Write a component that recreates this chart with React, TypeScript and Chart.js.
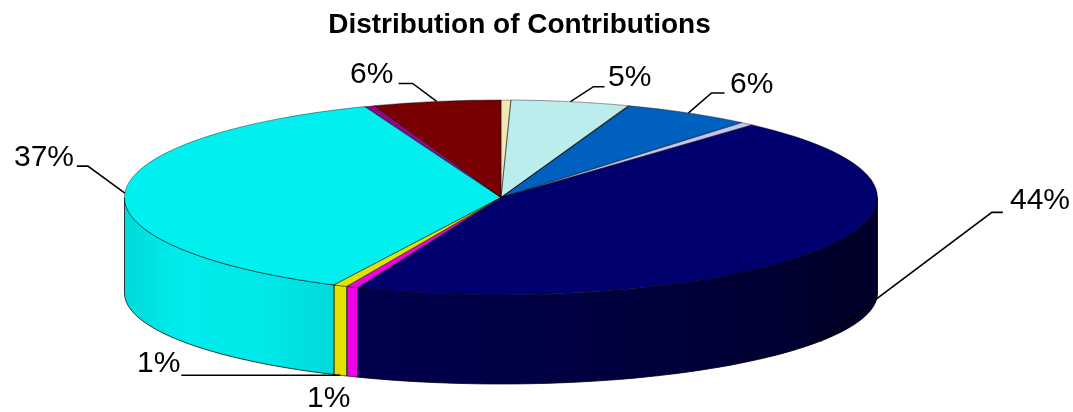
import React, { useEffect, useRef } from "react";
import { Chart, registerables } from "chart.js";

Chart.register(...registerables);

const TITLE = "Distribution of Contributions";
const categories = ["A", "B", "C", "D", "E", "F", "G", "H", "I", "J", "K"];
const shares = [0.42, 5.07, 0.06, 5.5, 0.58, 44.6, 0.5, 0.6, 36.8, 0.42, 5.47];
const percentLabels = ["", "5%", "", "6%", "", "44%", "1%", "1%", "37%", "", "6%"];
const topColors = ["#f0e8b4", "#bbeded", "#a06050", "#0060c0", "#c4c4f0", "#00006f", "#f000e8", "#e2e200", "#00f0f0", "#8a0a8a", "#780000"];

// Ellipse geometry of the tilted disc
const CX = 501, TOP_CY = 197.5, RX = 376.5, TOP_RY = 97.5, BOT_CY = 293, BOT_RY = 91;

// label layout: elbow dx, elbow dy, end dx from anchor; text x, text y
const leaderLayout: Record<number, { elbow?: [number, number]; end?: number; tx: number; ty: number }> = {
  1: { elbow: [23, -15], end: 34, tx: 608, ty: 78 },
  3: { elbow: [23, -20], end: 36, tx: 730, ty: 85 },
  5: { elbow: [172, -129], end: 183, tx: 1010, ty: 201 },
  6: { tx: 307, ty: 399 },
  7: { elbow: [-155, 0], end: -159, tx: 137, ty: 364 },
  8: { elbow: [-37, -27], end: -48, tx: 14, ty: 158 },
  10: { elbow: [-24, -18], end: -38, tx: 350, ty: 75 },
};

const pt = (a: number, cy: number, ry: number): [number, number] => [CX + RX * Math.cos(a), cy + ry * Math.sin(a)];

const discPlugin = {
  id: "disc",
  beforeDatasetDraw(chart: any) {
    const ctx = chart.ctx as CanvasRenderingContext2D;
    const arcs = chart.getDatasetMeta(0).data as any[];
    const ar = arcs[0];
    // side wall
    const shade = ctx.createLinearGradient(CX - RX, 0, CX + RX, 0);
    const stops: [number, number][] = [[125, 0.09], [180, 0.02], [260, 0.03], [333, 0.09], [334, 0], [358, 0], [359, 0.3], [600, 0.42], [877, 0.62]];
    for (const [x, o] of stops) shade.addColorStop(Math.min(1, Math.max(0, (x - (CX - RX)) / (2 * RX))), `rgba(0,0,0,${o})`);
    arcs.forEach((arc, i) => {
      const a0 = Math.max(arc.startAngle, 0);
      const a1 = Math.min(arc.endAngle, Math.PI);
      if (a1 <= a0) return;
      const path = () => {
        ctx.beginPath();
        const n = 60;
        for (let k = 0; k <= n; k++) {
          const p = pt(a0 + ((a1 - a0) * k) / n, TOP_CY, TOP_RY);
          k ? ctx.lineTo(p[0], p[1]) : ctx.moveTo(p[0], p[1]);
        }
        for (let k = n; k >= 0; k--) {
          const p = pt(a0 + ((a1 - a0) * k) / n, BOT_CY, BOT_RY);
          ctx.lineTo(p[0], p[1]);
        }
        ctx.closePath();
      };
      path();
      ctx.fillStyle = topColors[i];
      ctx.fill();
      ctx.fillStyle = shade;
      ctx.fill();
      ctx.strokeStyle = "rgba(0,0,0,0.75)";
      ctx.lineWidth = 1;
      ctx.stroke();
    });
    ctx.save();
    const sx = RX / ar.outerRadius;
    const sy = TOP_RY / ar.outerRadius;
    ctx.translate(CX, TOP_CY);
    ctx.scale(sx, sy);
    ctx.translate(-ar.x, -ar.y);
  },
  afterDatasetDraw(chart: any) {
    const ctx = chart.ctx as CanvasRenderingContext2D;
    ctx.restore();
    const arcs = chart.getDatasetMeta(0).data as any[];
    // slice outlines, drawn untransformed so the stroke stays thin
    arcs.forEach((arc) => {
      ctx.beginPath();
      ctx.moveTo(CX, TOP_CY);
      const n = 120;
      for (let k = 0; k <= n; k++) {
        const p = pt(arc.startAngle + ((arc.endAngle - arc.startAngle) * k) / n, TOP_CY, TOP_RY);
        ctx.lineTo(p[0], p[1]);
      }
      ctx.closePath();
      ctx.strokeStyle = "rgba(0,0,0,0.4)";
      ctx.lineWidth = 1;
      ctx.stroke();
    });
    // leader lines and labels
    ctx.font = "30px 'Liberation Sans'";
    ctx.textAlign = "left";
    ctx.textBaseline = "middle";
    arcs.forEach((arc, i) => {
      const text = percentLabels[i];
      if (!text) return;
      const lay = leaderLayout[i];
      const mid = (arc.startAngle + arc.endAngle) / 2;
      const front = Math.sin(mid) > 0.05;
      const [ax, ay] = front ? pt(mid, BOT_CY, BOT_RY) : pt(mid, TOP_CY, TOP_RY);
      if (lay.elbow && lay.end !== undefined) {
        ctx.beginPath();
        ctx.moveTo(ax, ay);
        ctx.lineTo(ax + lay.elbow[0], ay + lay.elbow[1]);
        ctx.lineTo(ax + lay.end, ay + lay.elbow[1]);
        ctx.strokeStyle = "#000";
        ctx.lineWidth = 1.6;
        ctx.stroke();
      }
      ctx.fillStyle = "#000";
      ctx.fillText(text, lay.tx, lay.ty);
    });
  },
};

export default function App() {
  const ref = useRef<HTMLCanvasElement>(null);
  useEffect(() => {
    const chart = new Chart(ref.current!, {
      type: "pie",
      data: {
        labels: categories,
        datasets: [{ data: shares, backgroundColor: topColors, borderWidth: 0, clip: false } as any],
      },
      options: {
        responsive: false,
        animation: false,
        layout: { padding: { right: 34 } },
        plugins: {
          legend: { display: false },
          tooltip: { enabled: false },
          title: {
            display: true,
            text: TITLE,
            color: "#000",
            font: { family: "'Liberation Sans'", size: 28, weight: "bold" },
            padding: { top: 8, bottom: 10 },
          },
        },
      },
      plugins: [discPlugin as any],
    });
    return () => chart.destroy();
  }, []);
  return (
    <canvas
      ref={ref}
      width={1073}
      height={412}
      style={{ position: "fixed", left: 0, top: 0, width: 1073, height: 412, background: "#fff" }}
    />
  );
}
